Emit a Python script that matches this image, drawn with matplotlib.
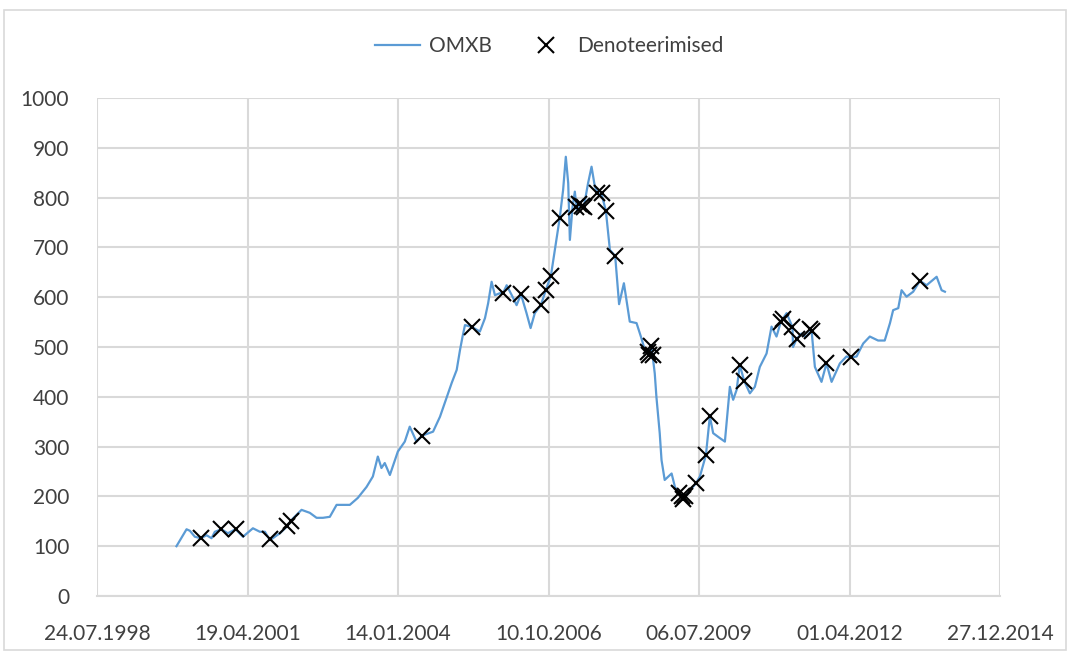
import numpy as np
import pandas as pd
import matplotlib
matplotlib.use("Agg")
import matplotlib.pyplot as plt
import matplotlib.dates as mdates
from matplotlib.patches import Rectangle

plt.rcParams['font.family'] = ['Lato', 'DejaVu Sans']

# OMXB index
omxb_dates = [
    "2000-01-03", "2000-03-10", "2000-04-01", "2000-05-04", "2000-06-13", "2000-07-21",
    "2000-08-23", "2000-09-14", "2000-10-28", "2000-12-09", "2001-01-30", "2001-03-20",
    "2001-05-25", "2001-07-10", "2001-08-13", "2001-09-15", "2001-11-20", "2002-01-08",
    "2002-01-31", "2002-04-13", "2002-06-07", "2002-07-22", "2002-09-02", "2002-10-18",
    "2002-12-02", "2003-01-12", "2003-02-28", "2003-04-22", "2003-06-19", "2003-07-31",
    "2003-09-02", "2003-09-26", "2003-10-18", "2003-11-21", "2004-01-13", "2004-02-28",
    "2004-04-01", "2004-05-16", "2004-06-22", "2004-09-03", "2004-10-19", "2004-12-02",
    "2005-01-05", "2005-02-07", "2005-03-01", "2005-03-18", "2005-04-03", "2005-05-21",
    "2005-07-11", "2005-08-14", "2005-09-04", "2005-09-27", "2005-10-19", "2005-11-21",
    "2005-12-13", "2006-01-05", "2006-02-18", "2006-03-12", "2006-04-10", "2006-05-17",
    "2006-06-13", "2006-07-11", "2006-08-20", "2006-09-22", "2006-10-26", "2006-11-21",
    "2006-12-24", "2007-01-15", "2007-02-02", "2007-02-18", "2007-03-01", "2007-03-19",
    "2007-04-03", "2007-04-16", "2007-05-06", "2007-06-02", "2007-06-30", "2007-07-23",
    "2007-08-14", "2007-09-03", "2007-09-29", "2007-10-26", "2007-11-22", "2007-12-27",
    "2008-01-22", "2008-02-23", "2008-04-02", "2008-05-17", "2008-06-19", "2008-07-11",
    "2008-08-09", "2008-08-24", "2008-09-15", "2008-09-26", "2008-10-18", "2008-10-30",
    "2008-11-20", "2009-01-05", "2009-01-27", "2009-03-13", "2009-03-21", "2009-05-07",
    "2009-06-15", "2009-07-12", "2009-08-21", "2009-09-16", "2009-10-08", "2009-11-22",
    "2009-12-25", "2010-01-27", "2010-02-18", "2010-03-13", "2010-04-03", "2010-05-02",
    "2010-06-09", "2010-07-12", "2010-08-14", "2010-09-28", "2010-10-31", "2010-12-03",
    "2011-01-01", "2011-02-08", "2011-03-19", "2011-03-23", "2011-04-15", "2011-05-18",
    "2011-06-16", "2011-07-24", "2011-08-15", "2011-09-28", "2011-10-31", "2011-12-04",
    "2012-01-28", "2012-03-12", "2012-04-08", "2012-05-18", "2012-07-01", "2012-08-14",
    "2012-10-08", "2012-11-21", "2012-12-26", "2013-01-16", "2013-02-19", "2013-03-13",
    "2013-04-15", "2013-05-29", "2013-07-13", "2013-08-26", "2013-11-01", "2013-12-04",
    "2013-12-26",
]
omxb_values = [
    100, 134, 131, 119, 116, 122,
    116, 129, 134, 126, 134, 119,
    136, 129, 129, 112, 126, 140,
    151, 173, 167, 157, 157, 159,
    183, 183, 183, 197, 219, 240,
    280, 257, 267, 243, 290, 310,
    340, 310, 322, 330, 360, 398,
    428, 454, 494, 521, 544, 540,
    531, 558, 588, 631, 604, 608,
    609, 624, 598, 584, 606, 568,
    538, 568, 584, 614, 643, 695,
    760, 815, 882, 829, 715, 782,
    812, 775, 782, 782, 829, 862,
    822, 810, 805, 774, 695, 683,
    586, 628, 551, 548, 517, 494,
    487, 502, 447, 400, 327, 273,
    233, 246, 219, 200, 193, 212,
    226, 240, 283, 361, 327, 317,
    310, 420, 394, 414, 464, 432,
    407, 420, 460, 487, 541, 521,
    551, 568, 540, 500, 516, 527,
    520, 533, 460, 430, 467, 430,
    467, 481, 479, 481, 507, 521,
    513, 513, 548, 574, 578, 614,
    601, 611, 633, 624, 641, 614,
    611,
]

# delisting points (Denoteerimised)
delist_dates = [
    "2000-06-13", "2000-10-28", "2001-01-30", "2001-09-18", "2002-01-08", "2002-01-31",
    "2004-06-22", "2005-05-21", "2005-12-13", "2006-04-10", "2006-08-20", "2006-09-22",
    "2006-10-26", "2006-12-24", "2007-04-10", "2007-05-01", "2007-05-21", "2007-06-02",
    "2007-08-28", "2007-09-30", "2007-10-26", "2007-12-27", "2008-07-31", "2008-08-09",
    "2008-08-24", "2008-09-02", "2009-02-23", "2009-03-13", "2009-03-21", "2009-04-03",
    "2009-06-15", "2009-08-21", "2009-09-16", "2010-04-03", "2010-05-02", "2011-01-01",
    "2011-01-14", "2011-03-19", "2011-04-15", "2011-07-13", "2011-07-24", "2011-10-31",
    "2012-04-08", "2013-07-13",
]
delist_values = [
    116, 134, 134, 114, 140, 151,
    322, 540, 609, 606, 584, 614,
    643, 760, 782, 787, 783, 781,
    810, 809, 774, 683, 490, 484,
    502, 483, 207, 200, 194, 201,
    226, 283, 361, 464, 432, 551,
    556, 540, 516, 536, 533, 467,
    479, 633,
]

x_ticks = ["1998-07-24", "2001-04-19", "2004-01-14", "2006-10-10",
           "2009-07-06", "2012-04-01", "2014-12-27"]
y_ticks = [0, 100, 200, 300, 400, 500, 600, 700, 800, 900, 1000]

grid_col = "#d9d9d9"
txt_col = "#404040"

fig = plt.figure(figsize=(10.68, 6.52), dpi=100)
ax = fig.add_axes([97/1068, 1-596/652, 903/1068, 498/652])

# light frame around the whole chart
fig.patches.append(Rectangle((4/1068, 2/652), 1062/1068, 640/652, transform=fig.transFigure,
                             fill=False, edgecolor=grid_col, linewidth=1.2))

d_line = pd.to_datetime(omxb_dates)
d_mark = pd.to_datetime(delist_dates)
ax.plot(d_line, omxb_values, color="#5b9bd5", linewidth=1.6, label="OMXB", zorder=3)
ax.plot(d_mark, delist_values, linestyle="none", marker="x", color="black",
        markersize=11, markeredgewidth=1.5, label="Denoteerimised", zorder=4)

xt = pd.to_datetime(x_ticks)
ax.set_xlim(xt[0], xt[-1])
ax.set_ylim(0, 1000)
ax.set_xticks(xt)
ax.set_xticklabels([d.strftime("%d.%m.%Y") for d in xt])
ax.set_yticks(y_ticks)

ax.grid(True, color=grid_col, linewidth=1.5)
ax.set_axisbelow(True)
for s in ["top", "right", "left"]:
    ax.spines[s].set_visible(False)
ax.spines["bottom"].set_color(grid_col)
ax.spines["bottom"].set_linewidth(1.5)
ax.tick_params(axis="both", length=0, labelsize=15, colors=txt_col)
ax.tick_params(axis="x", pad=20)
ax.tick_params(axis="y", pad=20)

leg = fig.legend(loc="center", bbox_to_anchor=(549/1068, 1-46/652), ncol=2, frameon=False,
                 fontsize=15, handlelength=2.2, columnspacing=1.5, handletextpad=0.4)
for t in leg.get_texts():
    t.set_color(txt_col)

fig.savefig("out.png", dpi=100)
